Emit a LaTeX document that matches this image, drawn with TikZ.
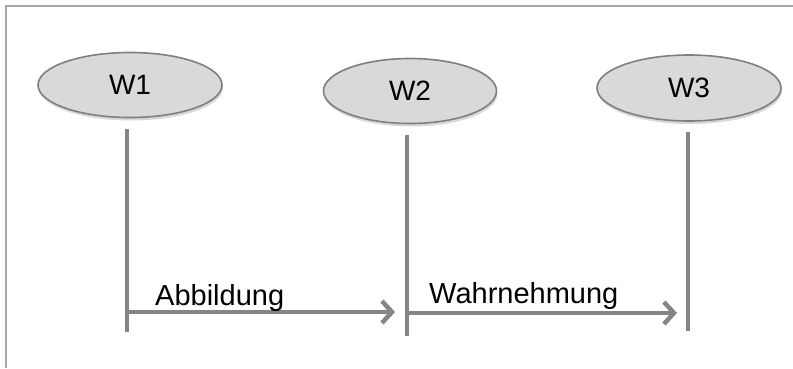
\documentclass[tikz,border=0pt]{standalone}
\usepackage{fontspec}
\setmainfont{Liberation Sans}
\usetikzlibrary{shapes.geometric,arrows.meta,shadows}
\definecolor{ellfill}{HTML}{D9D9D9}
\definecolor{ellline}{HTML}{7F7F7F}
\definecolor{linegray}{HTML}{858585}
\definecolor{framegray}{HTML}{A6A6A6}
\tikzset{
  world/.style={ellipse, draw=ellline, fill=ellfill, line width=1.6pt, inner sep=0pt,
    font=\fontsize{28}{31}\selectfont,
    drop shadow={opacity=0.3, shadow xshift=1pt, shadow yshift=-3pt}},
  vline/.style={draw=linegray, line width=4pt},
  arr/.style={draw=linegray, line width=4.5pt, -{Straight Barb[length=10pt,width=22pt]}},
  lbl/.style={font=\fontsize{29}{32}\selectfont, inner sep=0pt, anchor=base west}
}
\begin{document}
\begin{tikzpicture}[x=1pt,y=-1pt]
\useasboundingbox (0,0) rectangle (793,368);
\fill[white] (0,0) rectangle (793,368);
\draw[framegray, line width=2pt] (793,6) -- (6,6) -- (6,368);
\node[world, minimum width=184pt, minimum height=65pt] (w1) at (130,85) {W1};
\node[world, minimum width=173pt, minimum height=65pt] (w2) at (410,91) {W2};
\node[world, minimum width=184pt, minimum height=66pt] (w3) at (689,88) {W3};
\coordinate (t1) at (127,129);
\coordinate (b1) at (127,332);
\coordinate (t2) at (407,135);
\coordinate (b2) at (407,336);
\coordinate (t3) at (688,132);
\coordinate (b3) at (688,331);
\coordinate (a1s) at (127,312);
\coordinate (a1e) at (395,312);
\coordinate (a2s) at (407,313);
\coordinate (a2e) at (677,313);
\draw[vline] (t1) -- (b1);
\draw[vline] (t2) -- (b2);
\draw[vline] (t3) -- (b3);
\draw[arr] (a1s) -- (a1e);
\draw[arr] (a2s) -- (a2e);
\node[lbl] (l1) at (155,305) {Abbildung};
\node[lbl] (l2) at (429,303) {Wahrnehmung};
\end{tikzpicture}
\end{document}
